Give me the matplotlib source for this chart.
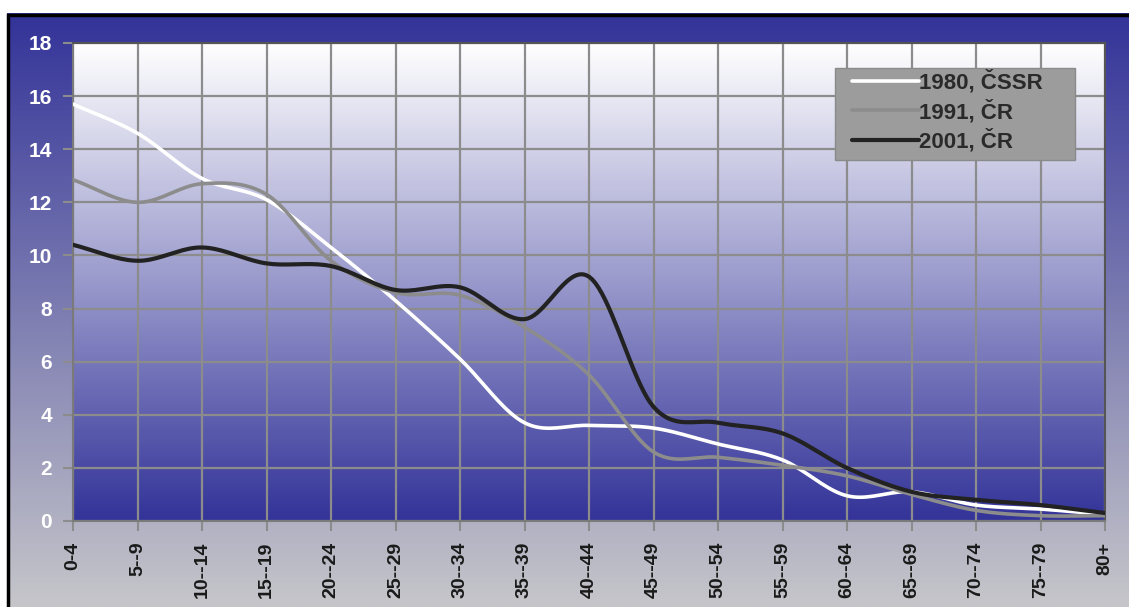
import numpy as np
import matplotlib
matplotlib.use("Agg")
import matplotlib.pyplot as plt
from matplotlib.patches import Rectangle
from matplotlib.colors import LinearSegmentedColormap

plt.rcParams['font.family'] = ['Liberation Sans', 'DejaVu Sans']

categories = ["0-4", "5--9", "10--14", "15--19", "20--24", "25--29", "30--34", "35--39",
              "40--44", "45--49", "50--54", "55--59", "60--64", "65--69", "70--74", "75--79", "80+"]
s1980 = [15.7, 14.6, 12.9, 12.1, 10.3, 8.3, 6.1, 3.7, 3.6, 3.5, 2.9, 2.3, 0.95, 1.1, 0.6, 0.45, 0.25]
s1991 = [12.85, 12.0, 12.7, 12.3, 9.8, 8.6, 8.5, 7.3, 5.5, 2.6, 2.4, 2.1, 1.7, 1.0, 0.4, 0.2, 0.2]
s2001 = [10.4, 9.8, 10.3, 9.7, 9.6, 8.7, 8.8, 7.6, 9.2, 4.3, 3.7, 3.3, 2.0, 1.1, 0.8, 0.6, 0.3]
labels = ["1980, ČSSR", "1991, ČR", "2001, ČR"]
yticks = [0, 2, 4, 6, 8, 10, 12, 14, 16, 18]


def smooth(y, n=20):
    y = np.asarray(y, float)
    m = len(y)
    x = np.arange(m, dtype=float)
    p = np.concatenate([[2 * y[0] - y[1]], y, [2 * y[-1] - y[-2]]])
    xs, ys = [], []
    for i in range(m - 1):
        p0, p1, p2, p3 = p[i], p[i + 1], p[i + 2], p[i + 3]
        t = np.linspace(0, 1, n, endpoint=False)
        v = 0.5 * ((2 * p1) + (-p0 + p2) * t + (2 * p0 - 5 * p1 + 4 * p2 - p3) * t ** 2
                   + (-p0 + 3 * p1 - 3 * p2 + p3) * t ** 3)
        xs.append(x[i] + t)
        ys.append(v)
    xs.append([x[-1]])
    ys.append([y[-1]])
    return np.concatenate(xs), np.concatenate(ys)


W, H = 1129, 607
fig = plt.figure(figsize=(W / 100, H / 100), dpi=100)
fig.patch.set_facecolor('white')

# figure background gradient inside black frame
bg = fig.add_axes([7 / W, 0, 1 - 7 / W, 1 - 13 / H], zorder=0)
cm_bg = LinearSegmentedColormap.from_list('bg', [(51/255, 51/255, 153/255), (198/255, 198/255, 202/255)])
bg.imshow(np.linspace(0, 1, 256)[:, None], aspect='auto', cmap=cm_bg,
          extent=[0, 1, 0, 1], origin='upper')
bg.set_axis_off()
fig.add_artist(Rectangle((7.5 / W, -0.01), 1.1, 1 - 14.5 / H + 0.01, transform=fig.transFigure,
                         fill=False, edgecolor='black', linewidth=2.5, zorder=1))

ax = fig.add_axes([73 / W, 1 - 521 / H, (1105 - 73) / W, (521 - 43) / H], zorder=2)
x = np.arange(len(categories))

cm_pl = LinearSegmentedColormap.from_list('pl', [(1, 1, 1), (51/255, 51/255, 153/255)])
ax.imshow(np.linspace(0, 1, 256)[:, None], aspect='auto', cmap=cm_pl,
          extent=[0, len(categories) - 1, 0, 18], origin='upper', zorder=0)
ax.set_xlim(0, len(categories) - 1)
ax.set_ylim(0, 18)

ax.set_xticks(x)
ax.set_xticklabels(categories, rotation=90, fontsize=14, fontweight='bold', color='#1a1a1a', va='top')
ax.set_yticks(yticks)
ax.set_yticklabels([str(v) for v in yticks], fontsize=15, fontweight='bold', color='white')
ax.tick_params(axis='both', length=7, width=1.5, color='#8c8c8c', pad=8)
ax.grid(True, color='#8c8c8c', linewidth=1.6, zorder=1)
ax.set_axisbelow(True)
for side, sp in ax.spines.items():
    sp.set_color('#7a7a7a')
    sp.set_linewidth(1.5)
ax.spines['right'].set_color('#555555')
ax.spines['top'].set_color('#555555')

colors = ['white', '#8c8c8c', '#222222']
for data, c, lab in zip([s1980, s1991, s2001], colors, labels):
    xs, ys = smooth(data)
    ax.plot(xs, ys, color=c, linewidth=2.6 if c != '#222222' else 3.0, label=lab, zorder=3,
            solid_capstyle='round')

# legend box
box = Rectangle((835 / W, 1 - 160 / H), 240 / W, 92 / H, transform=fig.transFigure,
                facecolor='#9c9c9c', edgecolor='#8a8a8a', linewidth=1.0, zorder=4, clip_on=False)
ax.add_patch(box)
leg = ax.legend(loc='upper left', bbox_to_anchor=(852 / W, 1 - 70 / H), bbox_transform=fig.transFigure,
                frameon=False, prop={'size': 16, 'weight': 'bold'}, handlelength=3.0,
                handletextpad=0.0, borderpad=0.0, labelspacing=0.28, borderaxespad=0)
leg.set_zorder(6)
for t in leg.get_texts():
    t.set_color('#2a2a2a')

fig.savefig('out.png', dpi=100, facecolor=fig.get_facecolor())
